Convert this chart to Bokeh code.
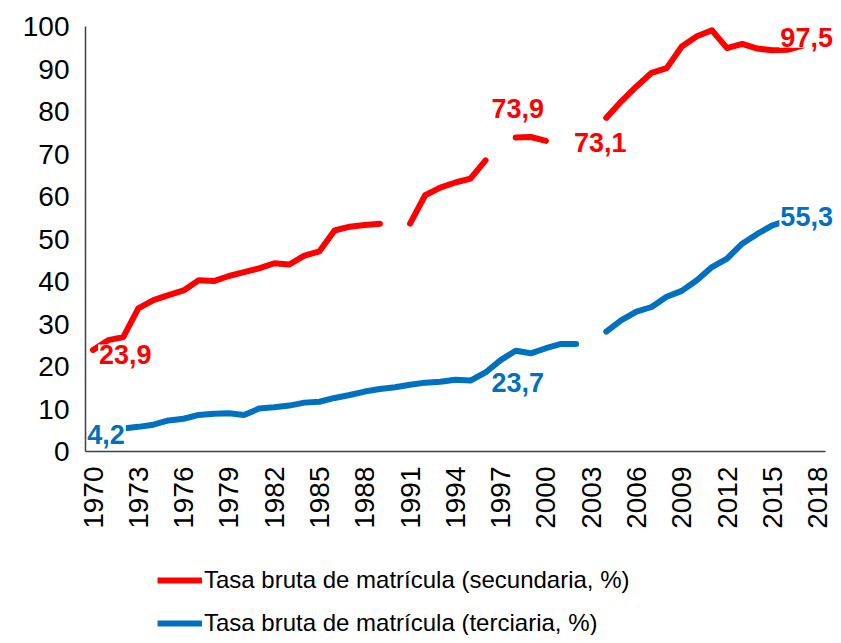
import math
from bokeh.plotting import figure
from bokeh.layouts import column
from bokeh.models import FixedTicker, Legend, LegendItem, ColumnDataSource, Range1d
from bokeh.core.properties import value
from bokeh.embed import file_html
from bokeh.resources import INLINE

years = list(range(1970, 2019))
secundaria = [23.9, 26.2, 26.9, 33.7, 35.6, 36.8, 37.9, 40.3, 40.1, 41.3,
              42.2, 43.1, 44.3, 44.0, 46.1, 47.1, 52.0, 52.9, 53.3, 53.6,
              None, 53.6, 60.3, 62.1, 63.3, 64.2, 68.5, None, 73.9, 74.0,
              73.1, None, None, None, 78.5, 82.4, 85.9, 89.1, 90.2, 95.3,
              97.7, 99.1, 94.9, 95.9, 94.8, 94.4, 94.5, 95.5, 97.5]
terciaria = [4.2, 5.0, 5.4, 5.8, 6.3, 7.3, 7.7, 8.6, 8.9, 9.0,
             8.6, 10.1, 10.4, 10.8, 11.5, 11.7, 12.6, 13.3, 14.1, 14.7,
             15.1, 15.7, 16.2, 16.4, 16.9, 16.7, 18.6, 21.5, 23.7, 23.1,
             24.3, 25.3, 25.3, None, 28.2, 30.9, 32.9, 34.0, 36.4, 37.8,
             40.3, 43.4, 45.4, 48.9, 51.2, 53.2, 54.3, 55.0, 55.3]
x_ticks = list(range(1970, 2019, 3))
y_ticks = list(range(0, 101, 10))
name_sec = "Tasa bruta de matrícula (secundaria, %)"
name_ter = "Tasa bruta de matrícula (terciaria, %)"

# labelled points
label_sec_years = [1970, 1998, 2000, 2018]
label_ter_years = [1970, 1998, 2018]

RED = "#FF0000"
BLUE = "#0070C0"

def nanify(vals):
    return [float("nan") if v is None else v for v in vals]

# frame runs to the right canvas edge (room for end labels);
# the x axis line itself is limited to the category span via bounds
X_START, X_END = 1969.5, 2019.05
p = figure(width=833, height=540, output_backend="svg", toolbar_location=None,
           x_range=Range1d(X_START, X_END), y_range=Range1d(0, 100),
           min_border_left=85, min_border_right=0, min_border_top=26,
           min_border_bottom=89)

p.line(years, nanify(secundaria), line_color=RED, line_width=6,
       line_join="round", line_cap="round")
p.line(years, nanify(terciaria), line_color=BLUE, line_width=6,
       line_join="round", line_cap="round")

def lab(years_sel, series, offsets, color):
    xs, ys, txt, xo, yo, al = [], [], [], [], [], []
    for (yr, (dx, dy, a)) in zip(years_sel, offsets):
        v = series[years.index(yr)]
        xs.append(yr); ys.append(v)
        txt.append(f"{v:.1f}".replace(".", ","))
        xo.append(dx); yo.append(dy); al.append(a)
    src = ColumnDataSource(dict(x=xs, y=ys, text=txt, xo=xo, yo=yo, al=al))
    p.text("x", "y", text="text", x_offset="xo", y_offset="yo", source=src,
           text_align="al", text_baseline="middle", text_color=color,
           text_font=value("Liberation Sans"), text_font_style="bold",
           text_font_size="27px", background_fill_color="white",
           padding=1)

# offsets in screen pixels (dx right, dy down)
lab(label_sec_years, secundaria,
    [(5, 5, "left"), (2, -29, "center"), (27, 2, "left"), (-11, 0, "center")], RED)
lab(label_ter_years, terciaria,
    [(13, 1, "center"), (2, 32, "center"), (-11, 0, "center")], BLUE)

p.xaxis.ticker = FixedTicker(ticks=x_ticks)
p.yaxis.ticker = FixedTicker(ticks=y_ticks)
p.xaxis.bounds = (years[0] - 0.5, years[-1] + 0.5)
p.xaxis.major_label_orientation = math.pi / 2
for ax in (p.xaxis, p.yaxis):
    ax.axis_line_color = "#404040"
    ax.axis_line_width = 1.5
    ax.major_tick_line_color = None
    ax.minor_tick_line_color = None
    ax.major_label_text_font = "Liberation Sans"
    ax.major_label_text_font_size = "28px"
    ax.major_label_text_color = "black"
p.yaxis.major_label_standoff = 10
p.xaxis.major_label_standoff = 9
p.grid.visible = False
p.outline_line_color = None

# legend panel below the chart
pl = figure(width=833, height=95, output_backend="svg", toolbar_location=None,
            x_range=Range1d(0, 1), y_range=Range1d(0, 1),
            min_border=0, x_axis_type=None, y_axis_type=None)
pl.grid.visible = False
pl.outline_line_color = None
l_sec = pl.line([float("nan")], [float("nan")], line_color=RED, line_width=6)
l_ter = pl.line([float("nan")], [float("nan")], line_color=BLUE, line_width=6)
legend = Legend(items=[LegendItem(label=name_sec, renderers=[l_sec]),
                       LegendItem(label=name_ter, renderers=[l_ter])],
                location=(72, -6), orientation="vertical",
                border_line_color=None, background_fill_alpha=0,
                label_text_font="Liberation Sans", label_text_font_size="24px",
                label_text_color="black",
                glyph_width=45, glyph_height=36, label_height=36,
                spacing=7, padding=0, margin=0, label_standoff=2)
pl.add_layout(legend)

layout = column(p, pl, spacing=0)
open("out.html", "w").write(file_html(layout, INLINE))
